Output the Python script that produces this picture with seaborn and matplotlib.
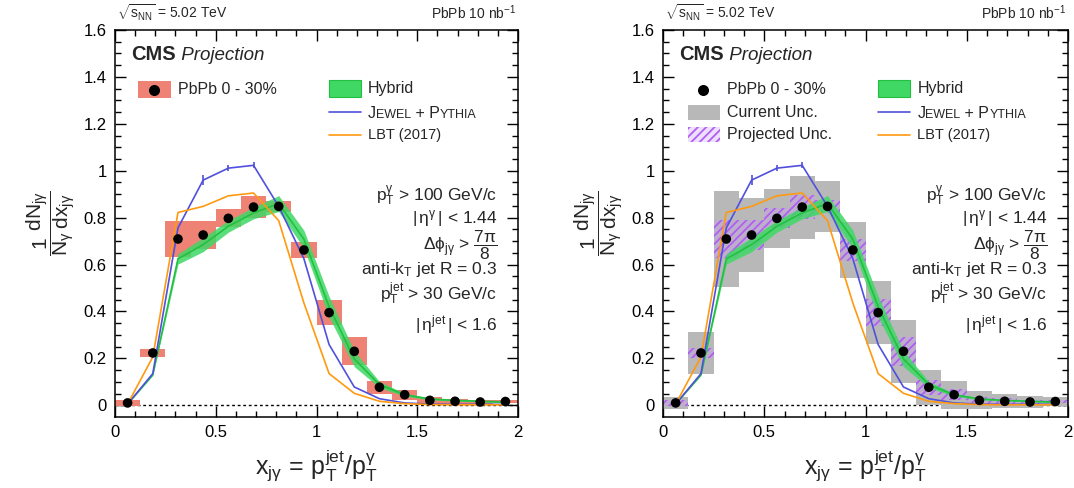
import numpy as np
import matplotlib
matplotlib.use('Agg')
import matplotlib.pyplot as plt
import seaborn as sns
from matplotlib.patches import Rectangle
from matplotlib.lines import Line2D

# x_jg bin centres (bin width 0.125)
x_centers = [0.0625, 0.1875, 0.3125, 0.4375, 0.5625, 0.6875, 0.8125, 0.9375,
             1.0625, 1.1875, 1.3125, 1.4375, 1.5625, 1.6875, 1.8125, 1.9375]
bin_width = 0.125

# PbPb 0-30% projected points
data_y = [0.010, 0.223, 0.709, 0.726, 0.797, 0.845, 0.848, 0.662,
          0.395, 0.230, 0.077, 0.045, 0.021, 0.017, 0.014, 0.016]
unc_left = [0.012, 0.016, 0.076, 0.061, 0.039, 0.046, 0.022, 0.036,
            0.054, 0.059, 0.027, 0.021, 0.015, 0.011, 0.010, 0.008]
unc_current = [0.025, 0.090, 0.206, 0.157, 0.125, 0.134, 0.110, 0.119,
               0.133, 0.133, 0.074, 0.060, 0.038, 0.030, 0.027, 0.020]
unc_projected = [0.012, 0.021, 0.080, 0.065, 0.043, 0.050, 0.028, 0.045,
                 0.058, 0.063, 0.032, 0.024, 0.015, 0.012, 0.010, 0.008]

# models
jewel = [0.005, 0.135, 0.756, 0.960, 1.011, 1.023, 0.848, 0.625,
         0.259, 0.078, 0.028, 0.010, 0.005, 0.004, 0.004, 0.004]
jewel_err = [0, 0, 0, 0.022, 0.013, 0.013, 0, 0, 0, 0, 0, 0, 0, 0, 0, 0]
lbt = [0.005, 0.206, 0.822, 0.848, 0.893, 0.905, 0.787, 0.436,
       0.135, 0.051, 0.017, 0.007, 0.003, 0.002, 0.002, 0.002]
hybrid = [0.005, 0.130, 0.624, 0.685, 0.763, 0.820, 0.860, 0.708,
          0.420, 0.198, 0.088, 0.045, 0.027, 0.021, 0.017, 0.014]
hybrid_err = [0.0, 0.003, 0.022, 0.030, 0.025, 0.025, 0.034, 0.038,
              0.044, 0.033, 0.013, 0.006, 0.004, 0.003, 0.003, 0.003]

x = np.array(x_centers)
y = np.array(data_y)
hyb = np.array(hybrid)
hyb_e = np.array(hybrid_err)

sns.set_theme(style='ticks')
plt.rcParams['font.family'] = ['Liberation Sans', 'DejaVu Sans']
plt.rcParams['mathtext.fontset'] = 'custom'
plt.rcParams['mathtext.rm'] = 'Liberation Sans'
plt.rcParams['mathtext.it'] = 'Liberation Sans'
plt.rcParams['mathtext.bf'] = 'Liberation Sans:bold'
plt.rcParams['mathtext.sf'] = 'Liberation Sans'
plt.rcParams['mathtext.default'] = 'regular'
plt.rcParams['hatch.linewidth'] = 1.3

RED = '#ee8275'
GREEN = '#3fd865'
GREEN_LINE = '#22c040'
BLUE = '#5050dd'
ORANGE = '#ff9a10'
GRAY = '#b8b8b8'
PURPLE = '#b060f0'
PURPLE_FILL = (0.80, 0.60, 1.0, 0.30)

fig = plt.figure(figsize=(10.74, 4.88), dpi=100)
ax_l = fig.add_axes([115 / 1074, 71 / 488, 403 / 1074, 387 / 488])
ax_r = fig.add_axes([663 / 1074, 71 / 488, 405 / 1074, 387 / 488])


def smallcaps(ax, fx, fy, parts, size=11.5):
    # parts: list of (text, is_small)
    prev = None
    for txt, small in parts:
        fs = size * 0.78 if small else size
        if prev is None:
            prev = ax.text(fx, fy, txt, transform=ax.transAxes, fontsize=fs,
                           ha='left', va='baseline')
        else:
            prev = ax.annotate(txt, xy=(1, fy), xycoords=(prev, ax.transAxes),
                               fontsize=fs, ha='left', va='baseline')


def draw_models(ax):
    ax.fill_between(x, hyb - hyb_e, hyb + hyb_e, color=GREEN, alpha=0.85,
                    linewidth=0, zorder=3)
    sns.lineplot(x=x, y=hyb, ax=ax, color=GREEN_LINE, linewidth=1.2, zorder=3)
    sns.lineplot(x=x, y=jewel, ax=ax, color=BLUE, linewidth=1.2, zorder=4)
    ax.errorbar(x, jewel, yerr=jewel_err, fmt='none', ecolor=BLUE,
                elinewidth=1.2, zorder=4)
    sns.lineplot(x=x, y=lbt, ax=ax, color=ORANGE, linewidth=1.2, zorder=4)
    sns.scatterplot(x=x, y=y, ax=ax, color='black', s=48, edgecolor='none',
                    zorder=6)


def style_axes(ax):
    ax.set_xlim(0, 2)
    ax.set_ylim(-0.05, 1.6)
    ax.axhline(0, color='black', linestyle=(0, (2, 2)), linewidth=1.0, zorder=1)
    ax.set_xticks([0, 0.5, 1, 1.5, 2])
    ax.set_xticklabels(['0', '0.5', '1', '1.5', '2'])
    ax.set_xticks(np.arange(0, 2.01, 0.1), minor=True)
    ax.set_yticks([0, 0.2, 0.4, 0.6, 0.8, 1, 1.2, 1.4, 1.6])
    ax.set_yticklabels(['0', '0.2', '0.4', '0.6', '0.8', '1', '1.2', '1.4', '1.6'])
    ax.set_yticks(np.arange(0, 1.61, 0.05), minor=True)
    ax.tick_params(which='both', direction='in', top=True, right=True,
                   labelsize=12, width=1.0, color='black', labelcolor='black')
    ax.tick_params(which='major', length=8, pad=6)
    ax.tick_params(which='minor', length=4)
    for sp in ax.spines.values():
        sp.set_linewidth(1.1)
        sp.set_color('black')
    ax.set_xlabel(r'$x_{j\gamma}\, = \,p_{T}^{jet}/p_{T}^{\gamma}$', fontsize=18,
                  labelpad=5)
    ax.set_ylabel(r'$\dfrac{1}{N_{\gamma}}\dfrac{dN_{j\gamma}}{dx_{j\gamma}}$',
                  fontsize=15, labelpad=4)

    ax.text(0.005, 1.045, r'$\sqrt{s_{NN}}$ = 5.02 TeV', transform=ax.transAxes,
            fontsize=10, ha='left', va='center')
    ax.text(0.995, 1.045, r'PbPb 10 nb$^{-1}$', transform=ax.transAxes,
            fontsize=10, ha='right', va='center')
    t = ax.text(0.04, 0.922, 'CMS', transform=ax.transAxes, fontsize=14.5,
                fontweight='bold', ha='left', va='baseline')
    ax.annotate(' Projection', xy=(1, 0.922), xycoords=(t, ax.transAxes),
                fontsize=13.5, style='italic', ha='left', va='baseline')

    # selection text
    fx = 0.948
    ax.text(fx, 0.571, r'$p_{T}^{\gamma}$ > 100 GeV/c', transform=ax.transAxes,
            fontsize=12.5, ha='right', va='center')
    ax.text(fx, 0.514, r'$|\,\eta^{\gamma}\,|$ < 1.44', transform=ax.transAxes,
            fontsize=12.5, ha='right', va='center')
    ax.text(fx, 0.444, r'$\Delta\phi_{j\gamma}$ > $\dfrac{7\pi}{8}$',
            transform=ax.transAxes, fontsize=12.5, ha='right', va='center')
    ax.text(fx, 0.380, r'anti-$k_{T}$ jet R = 0.3', transform=ax.transAxes,
            fontsize=12.5, ha='right', va='center')
    ax.text(fx, 0.318, r'$p_{T}^{jet}$ > 30 GeV/c', transform=ax.transAxes,
            fontsize=12.5, ha='right', va='center')
    ax.text(fx, 0.240, r'$|\,\eta^{jet}\,|$ < 1.6', transform=ax.transAxes,
            fontsize=12.5, ha='right', va='center')

    # model legend
    ax.add_patch(Rectangle((0.531, 0.827), 0.079, 0.044, transform=ax.transAxes,
                           facecolor=GREEN, edgecolor=GREEN_LINE, linewidth=0.8))
    ax.text(0.628, 0.849, 'Hybrid', transform=ax.transAxes, fontsize=11.5,
            ha='left', va='center')
    ax.add_line(Line2D([0.531, 0.610], [0.788, 0.788], transform=ax.transAxes,
                       color=BLUE, linewidth=1.2))
    smallcaps(ax, 0.628, 0.772, [('J', False), ('EWEL', True), (' + P', False),
                                 ('YTHIA', True)])
    ax.add_line(Line2D([0.531, 0.610], [0.729, 0.729], transform=ax.transAxes,
                       color=ORANGE, linewidth=1.2))
    ax.text(0.628, 0.729, 'LBT (2017)', transform=ax.transAxes, fontsize=10.5,
            ha='left', va='center')


# ---- left panel ----
ax_l.bar(x, 2 * np.array(unc_left), bottom=y - np.array(unc_left),
         width=bin_width, color=RED, linewidth=0, zorder=2)
draw_models(ax_l)
style_axes(ax_l)
ax_l.add_patch(Rectangle((0.057, 0.824), 0.082, 0.044, transform=ax_l.transAxes,
                         facecolor=RED, edgecolor='none'))
ax_l.scatter([0.098], [0.846], s=48, color='black', transform=ax_l.transAxes,
             zorder=6)
ax_l.text(0.156, 0.846, 'PbPb 0 - 30%', transform=ax_l.transAxes, fontsize=11.5,
          ha='left', va='center')

# ---- right panel ----
ax_r.bar(x, 2 * np.array(unc_current), bottom=y - np.array(unc_current),
         width=bin_width, color=GRAY, linewidth=0, zorder=2)
ax_r.bar(x, 2 * np.array(unc_projected), bottom=y - np.array(unc_projected),
         width=bin_width, facecolor=PURPLE_FILL, edgecolor=PURPLE,
         hatch='////', linewidth=0, zorder=2.5)
draw_models(ax_r)
style_axes(ax_r)
ax_r.scatter([0.099], [0.845], s=48, color='black', transform=ax_r.transAxes,
             zorder=6)
ax_r.text(0.158, 0.845, 'PbPb 0 - 30%', transform=ax_r.transAxes, fontsize=11.5,
          ha='left', va='center')
ax_r.add_patch(Rectangle((0.062, 0.767), 0.079, 0.039, transform=ax_r.transAxes,
                         facecolor=GRAY, edgecolor='none'))
ax_r.text(0.158, 0.786, 'Current Unc.', transform=ax_r.transAxes, fontsize=11.5,
          ha='left', va='center')
ax_r.add_patch(Rectangle((0.062, 0.711), 0.079, 0.039, transform=ax_r.transAxes,
                         facecolor=PURPLE_FILL, edgecolor=PURPLE,
                         hatch='////', linewidth=0))
ax_r.text(0.158, 0.729, 'Projected Unc.', transform=ax_r.transAxes, fontsize=11.5,
          ha='left', va='center')

fig.savefig('out.png', dpi=100)
